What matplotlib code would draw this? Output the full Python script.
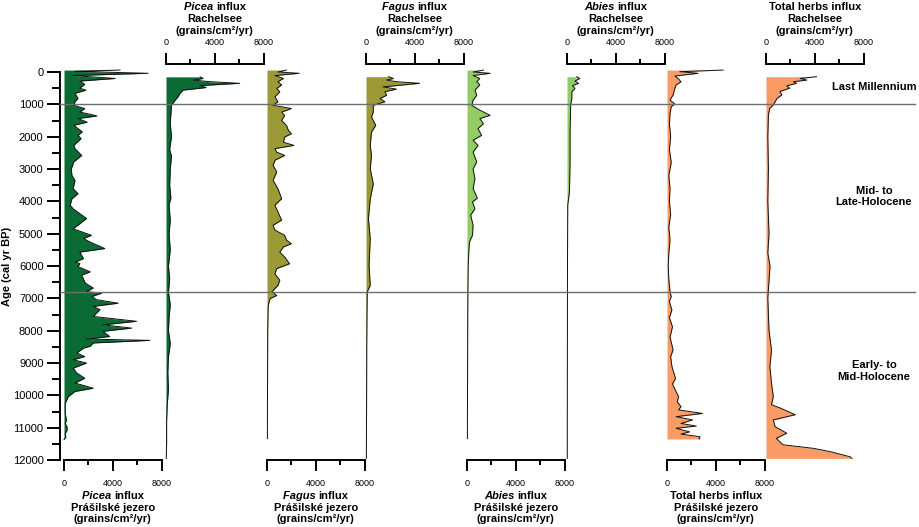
import matplotlib
matplotlib.use("Agg")
import matplotlib.pyplot as plt
from matplotlib import transforms
from matplotlib.lines import Line2D

plt.rcParams['font.family'] = ['Liberation Sans', 'DejaVu Sans']

# ------------- data (age in cal yr BP, influx in grains/cm2/yr) ------------
picea_p_age = [-60, -20, 40, 110, 200, 280, 380, 500, 560, 660, 815, 920, 1030, 1130, 1240, 1320, 1360,
               1440, 1550, 1650, 1850, 1960, 2060, 2270, 2370, 2580, 2780, 3000, 3200, 3350, 3610, 3760,
               3920, 4120, 4230, 4530, 4850, 5050, 5150, 5260, 5460, 5570, 5770, 5880, 5920, 6020, 6180,
               6280, 6530, 6680, 6790, 6840, 6940, 7040, 7150, 7250, 7350, 7560, 7710, 7820, 7920, 8020,
               8180, 8260, 8300, 8380, 8480, 8540, 8690, 8800, 8900, 9000, 9160, 9310, 9470, 9620, 9780,
               9880, 10040, 10250, 10560, 10770, 10870, 10970, 11080, 11180, 11290, 11370]
picea_p_val = [4600, 900, 6900, 750, 4200, 1300, 1700, 1300, 1800, 900, 1150, 900, 800, 1700, 1300, 2300, 2700,
               1150, 1900, 800, 1500, 1150, 1400, 800, 900, 1450, 800, 600, 650, 900, 750, 1150,
               650, 500, 750, 1850, 750, 2250, 1600, 2150, 3350, 1300, 1600, 900, 1300, 1150, 2150,
               1450, 1750, 2400, 1850, 3100, 2300, 2650, 4450, 2400, 2950, 2400, 5950, 3200, 5550, 3200,
               3750, 1850, 7050, 2400, 2150, 1600, 1050, 1700, 750, 1850, 750, 1050, 1700, 900, 2400,
               900, 350, 100, 100, 200, 100, 250, 250, 100, 150, 0]

picea_r_age = [150, 200, 250, 300, 350, 420, 480, 560, 660, 760, 870, 1030, 1300, 1600, 2000, 2400, 2600,
               3000, 3500, 3900, 4100, 4600, 5000, 5500, 6000, 6400, 6800, 7200, 7600, 8000, 8400, 8800,
               9300, 9800, 10300, 10800, 11500, 11950]
picea_r_val = [2800, 3050, 2250, 3600, 6050, 2800, 3300, 1400, 1150, 1000, 750, 450, 400, 350, 450, 300, 450,
               350, 300, 400, 250, 350, 250, 350, 200, 300, 200, 350, 250, 200, 350, 200,
               150, 200, 100, 50, 50, 20]

fagus_p_age = [-60, 0, 40, 110, 200, 300, 400, 510, 610, 770, 920, 1030, 1130, 1240, 1340, 1500, 1650, 1800,
               1910, 2010, 2170, 2270, 2370, 2480, 2580, 2730, 2890, 3090, 3350, 3610, 3920, 4120, 4330,
               4580, 4740, 4890, 5050, 5200, 5310, 5410, 5570, 5720, 5930, 6080, 6240, 6440, 6600, 6700,
               6800, 6910, 7010, 7220, 7600, 8000, 9000, 10000, 11340]
fagus_p_val = [1600, 900, 2650, 650, 1350, 900, 1200, 800, 1050, 650, 900, 500, 2000, 1200, 1450, 1200, 1600, 1750,
               2000, 1450, 1350, 2200, 650, 800, 1450, 650, 500, 800, 500, 900, 1200, 650, 900,
               1200, 500, 650, 1450, 1600, 2000, 1350, 1050, 1450, 1850, 800, 650, 1050, 900, 650,
               400, 800, 250, 100, 80, 60, 50, 40, 30]

fagus_r_age = [145, 200, 250, 300, 350, 400, 460, 530, 610, 720, 820, 920, 1030, 1240, 1390, 1650, 1860, 2270,
               2580, 3000, 3460, 3920, 4540, 5150, 5980, 6600, 6800, 7500, 8500, 10000, 11950]
fagus_r_val = [1850, 2250, 1700, 2500, 4400, 3050, 1400, 2500, 1550, 1700, 1150, 1550, 600, 600, 450, 800, 450, 350,
               450, 350, 600, 350, 200, 350, 250, 350, 100, 80, 60, 50, 30]

abies_p_age = [-60, 0, 40, 110, 200, 300, 400, 560, 720, 870, 1030, 1180, 1340, 1440, 1600, 1750, 1960, 2110,
               2270, 2480, 2780, 3000, 3300, 3610, 3900, 4020, 4230, 4430, 4740, 5050, 5260, 5570, 5980,
               6500, 7500, 9000, 11340]
abies_p_val = [1350, 500, 1900, 500, 1050, 800, 1050, 650, 800, 500, 400, 1050, 1900, 1050, 1350, 900, 1200, 500,
               900, 500, 800, 500, 650, 500, 850, 450, 650, 300, 500, 450, 200, 150, 100,
               80, 60, 50, 30]

abies_r_age = [145, 200, 280, 350, 420, 510, 610, 820, 1030, 1860, 2890, 3710, 4120, 6000, 9000, 11950]
abies_r_val = [800, 1050, 650, 950, 450, 650, 400, 400, 300, 250, 250, 200, 60, 40, 30, 20]

herbs_p_age = [-60, -10, 40, 125, 200, 300, 400, 500, 710, 870, 990, 1070, 1270, 1600, 2000, 2400, 2800, 3200,
               3600, 4000, 4400, 4800, 5200, 5600, 6000, 6400, 6800, 6940, 7100, 7360, 7600, 7880, 8200,
               8600, 8800, 9100, 9480, 9650, 9850, 10040, 10200, 10350, 10450, 10560, 10660, 10760, 10870,
               10950, 11020, 11130, 11200, 11280, 11350]
herbs_p_val = [4600, 1050, 2550, 650, 900, 1150, 750, 650, 500, 250, 650, 350, 250, 200, 300, 200, 350, 150,
               250, 200, 300, 150, 250, 150, 100, 150, 250, 350, 200, 400, 200, 450, 250,
               500, 300, 400, 700, 450, 700, 950, 850, 1150, 950, 2900, 750, 2100, 1150,
               2400, 750, 1850, 1150, 2700, 2650]

herbs_r_age = [145, 200, 250, 300, 350, 430, 500, 600, 710, 820, 920, 1020, 1130, 1330, 2000, 3000, 4000, 5000,
               5600, 6000, 7000, 8000, 8390, 8600, 9110, 9630, 10040, 10290, 10390, 10600, 10760, 10970,
               11170, 11330, 11530, 11640, 11740, 11900, 11950]
herbs_r_val = [4150, 2800, 3350, 2250, 2500, 1700, 1950, 1150, 1300, 900, 750, 600, 300, 200, 150, 200, 150, 250,
               150, 330, 150, 250, 380, 450, 320, 450, 600, 450, 1150, 2400, 600, 750,
               1700, 850, 1400, 3900, 5250, 6900, 7050]

sites = ['Prášilské jezero', 'Rachelsee']
taxa = ['Picea', 'Fagus', 'Abies', 'Total herbs']
colors = {'Picea': '#0b6b34', 'Fagus': '#9b9a36', 'Abies': '#92cc63', 'Total herbs': '#f99b64'}
series = [
    ('Picea', 0, picea_p_age, picea_p_val), ('Picea', 1, picea_r_age, picea_r_val),
    ('Fagus', 0, fagus_p_age, fagus_p_val), ('Fagus', 1, fagus_r_age, fagus_r_val),
    ('Abies', 0, abies_p_age, abies_p_val), ('Abies', 1, abies_r_age, abies_r_val),
    ('Total herbs', 0, herbs_p_age, herbs_p_val), ('Total herbs', 1, herbs_r_age, herbs_r_val),
]
zone_bounds = [1000, 6800]
zone_labels = [(460, 'Last Millennium'), (3850, 'Mid- to\nLate-Holocene'), (9250, 'Early- to\nMid-Holocene')]

# ------------- layout (pixels) ------------
W, H = 919, 527
left_px = [64, 166, 267, 366, 467, 567, 667, 766]
panel_w = 97.5
top_px, bot_px = 72, 460
PX = 0.72  # points per pixel

fig = plt.figure(figsize=(W / 100, H / 100), dpi=100)

axes = []
for i, (taxon, site, age, val) in enumerate(series):
    ax = fig.add_axes([left_px[i] / W, 1 - bot_px / H, panel_w / W, (bot_px - top_px) / H])
    ax.patch.set_visible(False)
    ax.set_xlim(0, 8000)
    ax.set_ylim(12000, 0)
    ax.fill_betweenx(age, 0, val, color=colors[taxon], lw=0, clip_on=False)
    ax.plot(val, age, color='#111111', lw=0.7, clip_on=False)
    for s in ax.spines.values():
        s.set_visible(False)
    side = 'bottom' if site == 0 else 'top'
    sp = ax.spines[side]
    sp.set_visible(True)
    sp.set_linewidth(1.4)
    sp.set_bounds(0, 8000)
    if side == 'top':
        sp.set_position(('outward', 8 * PX))
    ax.xaxis.set_ticks_position(side)
    ax.set_xticks([0, 4000, 8000])
    ax.set_xticks([2000, 6000], minor=True)
    ax.tick_params(axis='x', which='major', direction='out', length=11 * PX, width=1.4,
                   labelsize=6.5, pad=(6 if side == 'bottom' else 4))
    ax.tick_params(axis='x', which='minor', direction='out', length=5 * PX, width=1.4)
    ax.set_yticks([])
    axes.append(ax)

# age axis on the first panel
ax0 = axes[0]
ax0.spines['left'].set_visible(True)
ax0.spines['left'].set_linewidth(1.4)
ax0.spines['left'].set_position(('outward', 4 * PX))
ax0.set_yticks(range(0, 12001, 1000))
ax0.set_yticks(range(500, 12000, 1000), minor=True)
ax0.tick_params(axis='y', which='major', direction='out', length=13 * PX, width=1.4, labelsize=8, pad=2.5)
ax0.tick_params(axis='y', which='minor', direction='out', length=8 * PX, width=1.4)
fig.text(7 / W, 1 - 266 / H, 'Age (cal yr BP)', rotation=90, ha='center', va='center',
         weight='bold', size=8)

# panel titles: italic genus + bold rest, centred over/under each scale bar
renderer = fig.canvas.get_renderer()


def title_line(xc, y, first, rest, italic):
    kw = dict(weight='bold', size=8, va='center', ha='left')
    if italic:
        t1 = fig.text(0, 1 - y / H, first + ' ', style='italic', **kw)
        t2 = fig.text(0, 1 - y / H, rest, **kw)
        w1 = t1.get_window_extent(renderer).width
        w2 = t2.get_window_extent(renderer).width
        x = xc - (w1 + w2) / 2
        t1.set_x(x / W)
        t2.set_x((x + w1) / W)
    else:
        fig.text(xc / W, 1 - y / H, first + ' ' + rest, weight='bold', size=8, va='center', ha='center')


for i, (taxon, site, age, val) in enumerate(series):
    xc = left_px[i] + panel_w / 2
    ys = [496, 508, 519.5] if site == 0 else [7, 19, 31]
    title_line(xc, ys[0], taxon, 'influx', taxon != 'Total herbs')
    fig.text(xc / W, 1 - ys[1] / H, sites[site], weight='bold', size=8, ha='center', va='center')
    fig.text(xc / W, 1 - ys[2] / H, '(grains/cm²/yr)', weight='bold', size=8, ha='center', va='center')

# zone boundaries and labels
trans = transforms.blended_transform_factory(fig.transFigure, ax0.transData)
for b in zone_bounds:
    fig.add_artist(Line2D([60 / W, 915 / W], [b, b], transform=trans, color='#6e6e6e', lw=1.0))
for a, lab in zone_labels:
    fig.text(874 / W, a, lab, transform=trans, ha='center', va='center', weight='bold', size=8,
             linespacing=1.15)

fig.savefig('out.png', dpi=100)
